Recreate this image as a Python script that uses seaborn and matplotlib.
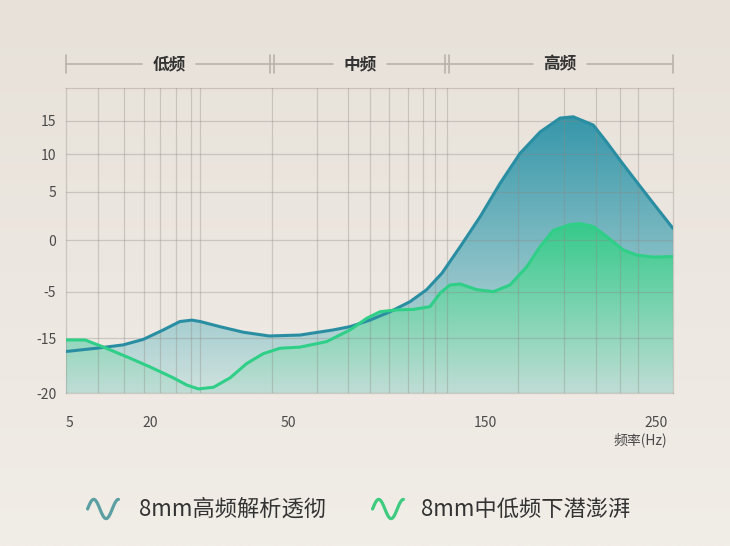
import numpy as np
import matplotlib
matplotlib.use('Agg')
import matplotlib.pyplot as plt
import matplotlib.transforms as mtransforms
from matplotlib.colors import to_rgba
import seaborn as sns

# ---- values ----
freq_high = [5, 10.5, 15.2, 18.8, 22.9, 26.5, 29.1, 30.9, 35.2, 40.3, 45.9, 56.1, 73.0, 81.5,
             91.6, 101.8, 111.9, 120.4, 128.2, 137.4, 147.5, 158.8, 170.5, 182.2, 193.9,
             201.6, 213.3, 221.1, 228.9, 238.7, 248.4, 260]
db_high = [-16.2, -15.9, -15.6, -15.1, -13.2, -11.4, -11.1, -11.4, -12.5, -13.7, -14.5, -14.3,
           -13.2, -12.5, -11.1, -9.3, -7.15, -4.8, -3.2, -0.65, 2.4, 6.1, 10.1, 13.3, 15.4,
           15.6, 14.35, 11.8, 9.2, 6.3, 3.8, 1.2]

freq_low = [5, 8.4, 11.7, 16.4, 20, 25.1, 28.0, 30.5, 33.8, 37.4, 41.0, 44.6, 48.3, 56.1, 69.6,
            81.5, 90.0, 96.7, 105.2, 113.6, 122.1, 127.2, 132.2, 137.4, 145.8, 154.9, 164.6,
            174.4, 182.2, 190.0, 199.7, 205.6, 213.3, 221.2, 230.9, 238.7, 248.4, 260]
db_low = [-15.15, -15.15, -15.8, -16.8, -17.6, -18.6, -19.25, -19.6, -19.45, -18.6, -17.3,
          -16.4, -15.9, -15.8, -15.3, -13.2, -10.7, -9.3, -8.9, -8.8, -8.2, -5.3, -4.35,
          -4.25, -4.8, -5.0, -4.35, -2.6, -0.65, 1.0, 1.6, 1.7, 1.4, 0.35, -0.97, -1.45,
          -1.65, -1.6]

x_ticks = [5, 20, 50, 150, 250]
y_ticks = [-20, -15, -5, 0, 5, 10, 15]
x_grid = [10.7, 15.4, 18.9, 22.2, 25.7, 28.9, 30.9, 46.5, 64.9, 80.6, 91.6, 101.4, 111,
          118.7, 124.6, 130.9, 169.5, 196.2, 214.7, 228.9, 239.6, 250]
bands = ['低频', '中频', '高频']
band_edges = [5, 46.5, 130.9, 260]
series_names = ['8mm高频解析透彻', '8mm中低频下潜澎湃']

# ---- uneven axis scales (breakpoints of the printed axes) ----
xs_val = [-100, 5, 20, 50, 150, 250, 260, 400]
xs_pos = [-100 * 84 / 15, 0, 84, 222, 419, 590, 607, 607 + 140 * 607 / 100]
ys_val = [-60, -20, -15, -5, 0, 5, 10, 15, 20, 60]
ys_pos = [-440, 0, 55, 101.6, 153.3, 201.6, 239.3, 272.6, 305.3, 305.3 + 40 * 6.54]


def fx(v):
    return np.interp(v, xs_val, xs_pos)


def fx_inv(p):
    return np.interp(p, xs_pos, xs_val)


def fy(v):
    return np.interp(v, ys_val, ys_pos)


def fy_inv(p):
    return np.interp(p, ys_pos, ys_val)


bg = '#ebe6df'
grid_col = '#8c8780'
blue = '#2a8ea3'
green = '#30cf88'

sns.set_style('white')
plt.rcParams['font.family'] = ['Noto Sans CJK SC', 'DejaVu Sans']

fig = plt.figure(figsize=(7.3, 5.46), dpi=100, facecolor=bg)

# soft background gradient
bga = fig.add_axes([0, 0, 1, 1], zorder=-10)
c0, c1 = np.array(to_rgba('#e7e1d9')), np.array(to_rgba('#f1ede7'))
bga.imshow(c0 + np.linspace(0, 1, 256)[:, None, None] * (c1 - c0), aspect='auto',
           extent=[0, 1, 0, 1], origin='upper')
bga.axis('off')

ax = fig.add_axes([66 / 730, 1 - 393.3 / 546, 607 / 730, 305.3 / 546])
ax.set_facecolor('none')
ax.set_xscale('function', functions=(fx, fx_inv))
ax.set_yscale('function', functions=(fy, fy_inv))


def gradient_fill(freqs, dbs, c_top, c_bot, top_at):
    poly = ax.fill_between(freqs, dbs, -20, color='none', lw=0)
    t = np.clip(np.linspace(0, 1, 300) / top_at, 0, 1)[:, None, None]
    img = np.array(to_rgba(c_bot)) + t * (np.array(to_rgba(c_top)) - np.array(to_rgba(c_bot)))
    im = ax.imshow(img, extent=[0, 1, 0, 1], origin='lower', aspect='auto',
                   transform=ax.transAxes, zorder=1, interpolation='bilinear')
    im.set_clip_path(poly.get_paths()[0], transform=ax.transData)


gradient_fill(freq_high, db_high, '#3697aa', '#cfe2de', 0.9)
gradient_fill(freq_low, db_low, '#37ca8c', '#bfddd5', 0.55)

sns.lineplot(x=freq_high, y=db_high, ax=ax, color=blue, lw=2.2, sort=False, zorder=5,
             solid_joinstyle='round', solid_capstyle='round')
sns.lineplot(x=freq_low, y=db_low, ax=ax, color=green, lw=2.2, sort=False, zorder=6,
             solid_joinstyle='round', solid_capstyle='round')

ax.set_xlim(5, 260)
ax.set_ylim(-20, 20)

ax.set_xticks(x_ticks)
ax.set_xticklabels([str(v) for v in x_ticks])
ax.set_xticks(x_grid, minor=True)
ax.set_yticks(y_ticks)
ax.set_yticklabels([str(v) for v in y_ticks])
ax.tick_params(axis='both', which='both', length=0, labelsize=10, labelcolor='#4a4a4a')
ax.tick_params(axis='x', pad=16)
ax.tick_params(axis='y', pad=7)
ax.grid(False)
ax.grid(True, which='minor', axis='x', color=grid_col, alpha=0.34, lw=0.9)
ax.grid(True, which='major', axis='y', color=grid_col, alpha=0.34, lw=0.9)
ax.set_axisbelow(False)
for s in ax.spines.values():
    s.set_color(grid_col)
    s.set_alpha(0.34)
    s.set_linewidth(0.9)
ax.set_xlabel('')
ax.set_ylabel('')
# the "5" label sits a little right of the left edge
ax.get_xticklabels()[0].set_horizontalalignment('left')

# band header above the plot
trans = mtransforms.blended_transform_factory(ax.transData, ax.transAxes)
band_col = '#b8b3ac'
band_y = 1.0786
for i, name in enumerate(bands):
    p0, p1 = fx(band_edges[i]), fx(band_edges[i + 1])
    mid = (p0 + p1) / 2
    for a, b in [(p0, mid - 27), (mid + 27, p1)]:
        ax.plot([fx_inv(a), fx_inv(b)], [band_y, band_y], transform=trans, color=band_col,
                lw=1.2, clip_on=False)
    ax.text(fx_inv(mid), band_y, name, transform=trans, ha='center', va='center',
            fontsize=12, fontweight='bold', color='#333333')
for i, e in enumerate(band_edges):
    offs = [0] if i in (0, len(band_edges) - 1) else [-2, 2]
    for o in offs:
        tr = trans + mtransforms.ScaledTranslation(o / 100, 0, fig.dpi_scale_trans)
        ax.plot([e, e], [1.049, 1.108], transform=tr, color=band_col, lw=1.2, clip_on=False)

fig.text(667 / 730, 1 - 440 / 546, '频率(Hz)', ha='right', va='center', fontsize=10,
         color='#4a4a4a')

# legend with wave icons
icon_t = np.linspace(0, 2.5 * np.pi, 100)
for name, col, ix, tx in [(series_names[0], '#5b9fa2', 86, 139),
                          (series_names[1], '#3ecb7f', 371, 421)]:
    ia = fig.add_axes([ix / 730, 1 - 521 / 546, 34 / 730, 24 / 546])
    ia.plot(icon_t, np.sin(icon_t), color=col, lw=2.3, solid_capstyle='round')
    ia.set_ylim(-1.25, 1.25)
    ia.axis('off')
    fig.text(tx / 730, 1 - 509 / 546, name, ha='left', va='center', fontsize=16,
             color='#333333')

fig.savefig('out.png', dpi=100, facecolor=fig.get_facecolor())
